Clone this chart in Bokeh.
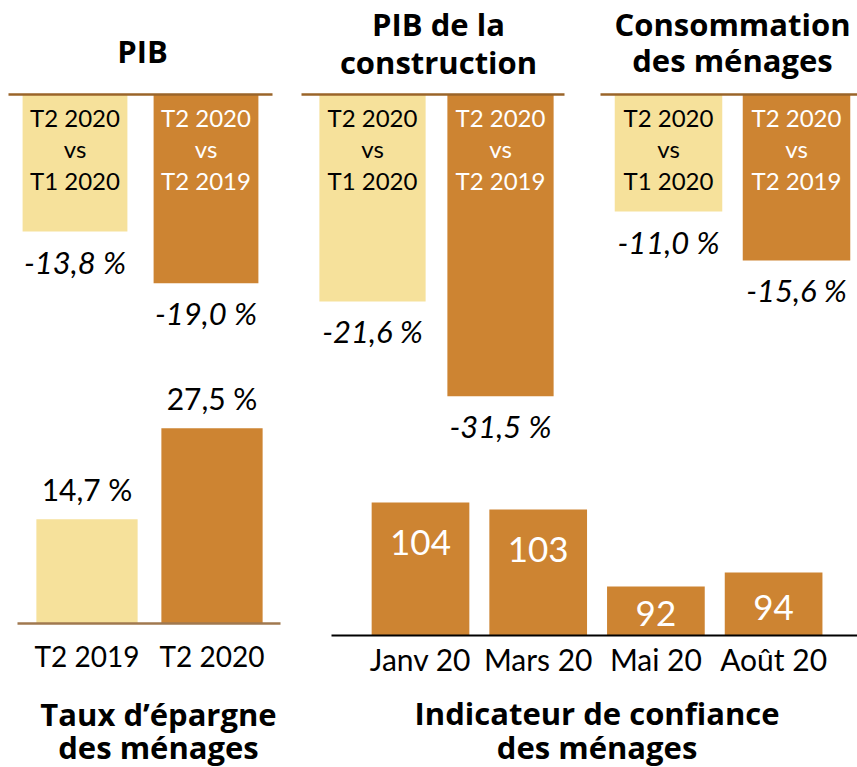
from bokeh.plotting import figure
from bokeh.layouts import row, column
from bokeh.models import Range1d, ColumnDataSource
from bokeh.embed import file_html
from bokeh.resources import INLINE
from bokeh.core.properties import value

# ---------------- data ----------------
cmp_line1 = ["T2 2020", "T2 2020"]
cmp_line2 = ["vs", "vs"]
cmp_line3 = ["T1 2020", "T2 2019"]
pib = [-13.8, -19.0]
pib_construction = [-21.6, -31.5]
consommation = [-11.0, -15.6]

epargne_periods = ["T2 2019", "T2 2020"]
epargne = [14.7, 27.5]

confiance_months = ["Janv 20", "Mars 20", "Mai 20", "Août 20"]
confiance = [104, 103, 92, 94]
confiance_base = 85

# ---------------- style ----------------
LIGHT = "#F6E19B"
DARK = "#CD8432"
AXIS_TOP = "#9A6429"
AXIS_EP = "#A0784F"
FONT = "Lato"
TFONT = "Open Sans"
TSIZE = "31px"
D = 12  # baseline correction (px)


def fmt(v):
    return ("%.1f %%" % v).replace(".", ",")


def make_fig(w, h, x0_px, unit_px, zero_px, k, base=0.0):
    xs = -x0_px / unit_px
    ye = base + zero_px / k
    p = figure(width=w, height=h,
               x_range=Range1d(xs, xs + w / unit_px),
               y_range=Range1d(ye - h / k, ye),
               output_backend="svg", toolbar_location=None,
               x_axis_location=None, y_axis_location=None,
               min_border=0, outline_line_color=None,
               background_fill_color="white", border_fill_color="white")
    p.xgrid.visible = False
    p.ygrid.visible = False
    px2x = lambda px: xs + px / unit_px
    return p, px2x


def top_panel(values, title_lines, title_offsets, w, h, x0_px, unit_px, bar_w, k,
              line_px, title_px):
    p, px2x = make_fig(w, h, x0_px, unit_px, 94, k)
    n = len(values)
    src = ColumnDataSource(dict(
        x=list(range(n)), bottom=values, color=[LIGHT, DARK],
        tcol=["black", "white"], l1=cmp_line1, l2=cmp_line2, l3=cmp_line3,
        lab=[fmt(v) for v in values]))
    p.vbar(x="x", top=0, bottom="bottom", width=bar_w, fill_color="color",
           line_color=None, source=src)
    for col, off in (("l1", 35), ("l2", 66), ("l3", 98)):
        p.text(x="x", y=0, text=col, y_offset=off - D, text_color="tcol",
               text_align="center", text_baseline="alphabetic",
               text_font=value(FONT), text_font_size="24px", source=src)
    p.text(x="x", y="bottom", text="lab", y_offset=42 - D, text_color="black",
           text_align="center", text_baseline="alphabetic",
           text_font=value(FONT), text_font_style="italic",
           text_font_size="31px", source=src)
    p.segment(x0=[px2x(line_px[0])], x1=[px2x(line_px[1])], y0=[0], y1=[0],
              line_color=AXIS_TOP, line_width=2.5)
    for t, off in zip(title_lines, title_offsets):
        p.text(x=[px2x(title_px)], y=[0], text=[t], y_offset=off - D - 1,
               text_align="center", text_baseline="alphabetic",
               text_font=value(TFONT), text_font_style="bold",
               text_font_size=TSIZE, text_color="black")
    return p


p_pib = top_panel(pib, ["PIB"], [-31], 300, 345, 74.5, 131, 0.80, 9.93,
                  (8, 272), 142)
p_con = top_panel(pib_construction, ["PIB de la", "construction"], [-58, -20],
                  290, 448, 72, 128, 0.83, 9.58, (1, 264), 138)
p_men = top_panel(consommation, ["Consommation", "des ménages"], [-58, -22],
                  267, 448, 78, 128, 0.84, 10.64, (10, 267), 142)

# ---- Taux d'épargne ----
p_ep, ep_px = make_fig(300, 422, 86.5, 125, 278, 7.1)
src_ep = ColumnDataSource(dict(x=[0, 1], top=epargne, color=[LIGHT, DARK],
                               lab=[fmt(v) for v in epargne], tick=epargne_periods))
p_ep.vbar(x="x", top="top", bottom=0, width=0.81, fill_color="color",
          line_color=None, source=src_ep)
p_ep.segment(x0=[ep_px(17)], x1=[ep_px(280)], y0=[0], y1=[0],
             line_color=AXIS_EP, line_width=2.5)
p_ep.text(x="x", y="top", text="lab", y_offset=-18 - D, text_align="center",
          text_baseline="alphabetic", text_font=value(FONT),
          text_font_size="30px", text_color="black", source=src_ep)
p_ep.text(x="x", y=0, text="tick", y_offset=44 - D, text_align="center",
          text_baseline="alphabetic", text_font=value(FONT),
          text_font_size="28px", text_color="black", source=src_ep)
for t, off in (("Taux d’épargne", 102), ("des ménages", 135)):
    p_ep.text(x=[ep_px(158)], y=[0], text=[t], y_offset=off - D, text_align="center",
              text_baseline="alphabetic", text_font=value(TFONT),
              text_font_style="bold", text_font_size=TSIZE, text_color="black")

# ---- Indicateur de confiance ----
K_CONF = 7.0
p_cf, cf_px = make_fig(557, 319, 120, 117.7, 187, K_CONF, base=confiance_base)
lab_off = [min(40.0, (v - confiance_base) * K_CONF * 0.55) for v in confiance]
src_cf = ColumnDataSource(dict(x=list(range(len(confiance))), top=confiance,
                               lab=[str(v) for v in confiance],
                               tick=confiance_months, off=lab_off))
p_cf.vbar(x="x", top="top", bottom=confiance_base, width=0.83, fill_color=DARK,
          line_color=None, source=src_cf)
p_cf.segment(x0=[cf_px(31)], x1=[cf_px(557)], y0=[confiance_base],
             y1=[confiance_base], line_color="black", line_width=2)
p_cf.text(x="x", y="top", text="lab", y_offset="off", text_align="center",
          text_baseline="middle", text_font=value(FONT), text_font_size="35px",
          text_color="white", source=src_cf)
p_cf.text(x="x", y=confiance_base, text="tick", y_offset=35 - D, text_align="center",
          text_baseline="alphabetic", text_font=value(FONT),
          text_font_size="30px", text_color="black", source=src_cf)
for t, off in (("Indicateur de confiance", 89), ("des ménages", 123)):
    p_cf.text(x=[1.5], y=[confiance_base], text=[t], y_offset=off - D,
              text_align="center", text_baseline="alphabetic",
              text_font=value(TFONT), text_font_style="bold",
              text_font_size=TSIZE, text_color="black")

layout = row(column(p_pib, p_ep),
             column(row(p_con, p_men), p_cf))

open("out.html", "w").write(file_html(layout, INLINE))
